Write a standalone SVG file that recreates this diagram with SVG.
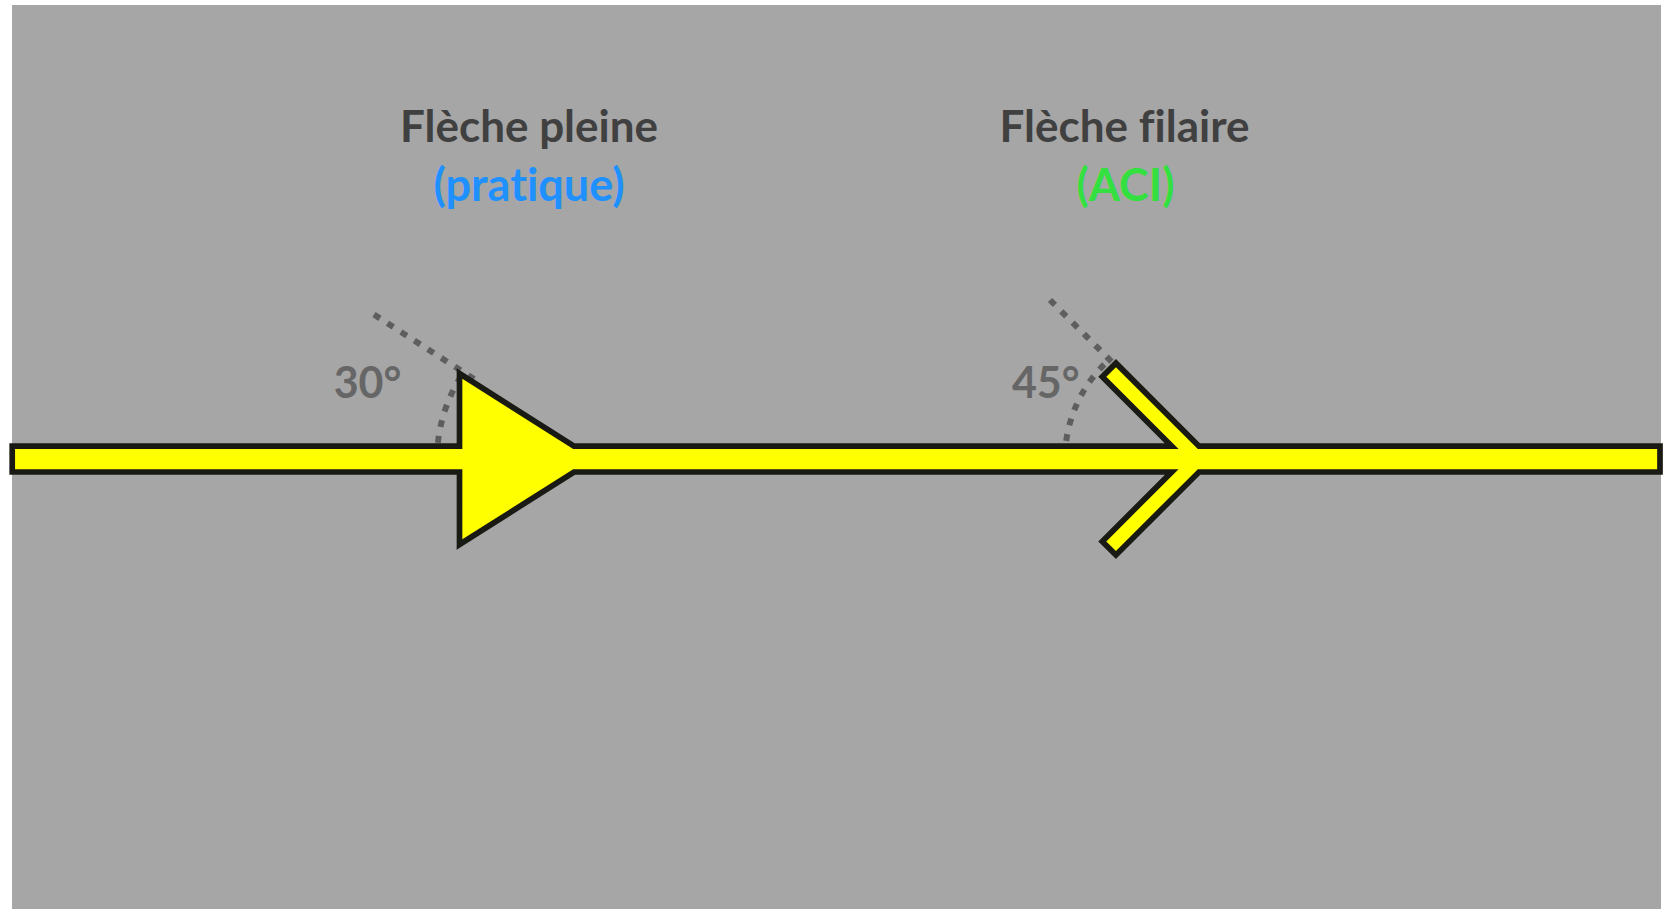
<svg xmlns="http://www.w3.org/2000/svg" width="1667" height="909" viewBox="0 0 1667 909">
  <style>
    text { font-family: Lato, "Liberation Sans", sans-serif; font-weight: 700; font-variant-ligatures: none; font-feature-settings: "liga" 0, "clig" 0, "dlig" 0; text-anchor: middle; }
    .title { font-size: 44px; fill: #404040; }
    .sub { font-size: 45px; }
    .angle { font-size: 43px; fill: #666666; }
    .guide { fill: none; stroke: #5E5E5E; stroke-width: 6; stroke-dasharray: 7 9; }
    .shape { fill: #FFFF00; stroke: #1A1A14; stroke-width: 5.7; stroke-linejoin: miter; }
  </style>

  <rect x="0" y="0" width="1667" height="909" fill="#FFFFFF"/>
  <rect x="12" y="5" width="1649" height="904" fill="#A6A6A6"/>

  <!-- angle guides (dotted extension + arc) -->
  <g id="guides">
    <path class="guide" d="M374 314.6 L475 379.6"/>
    <path class="guide" d="M461.1 376.3 A155 155 0 0 0 437.4 448.3"/>
    <path class="guide" d="M1050 300 L1116 366"/>
    <path class="guide" d="M1104.25 364.35 A134 134 0 0 0 1065.3 449.8"/>
  </g>

  <!-- shaft with solid head and open (wire) head -->
  <g id="connectors">
    <path class="shape" d="M12.2 446.2 H459.5 V373.5 L574 446.2 H1171.7 L1102.3 376.8 L1115.95 363.15 L1199 446.2 H1660 V472 H1199 L1115.95 555.05 L1102.3 541.4 L1171.7 472 H574 L459.5 544.5 V472 H12.2 Z"/>
  </g>

  <g id="label-solid">
    <text class="title" x="529" y="141.7">Flèche pleine</text>
    <text class="sub" x="529" y="201" fill="#1E90FF">(pratique)</text>
  </g>

  <g id="label-wire">
    <text class="title" x="1124.5" y="141.7">Flèche filaire</text>
    <text class="sub" x="1125.5" y="201" fill="#33E040">(ACI)</text>
  </g>

  <g id="angle-30">
    <text class="angle" x="367.5" y="398.3">30°</text>
  </g>
  <g id="angle-45">
    <text class="angle" x="1045.8" y="398.3">45°</text>
  </g>
</svg>
